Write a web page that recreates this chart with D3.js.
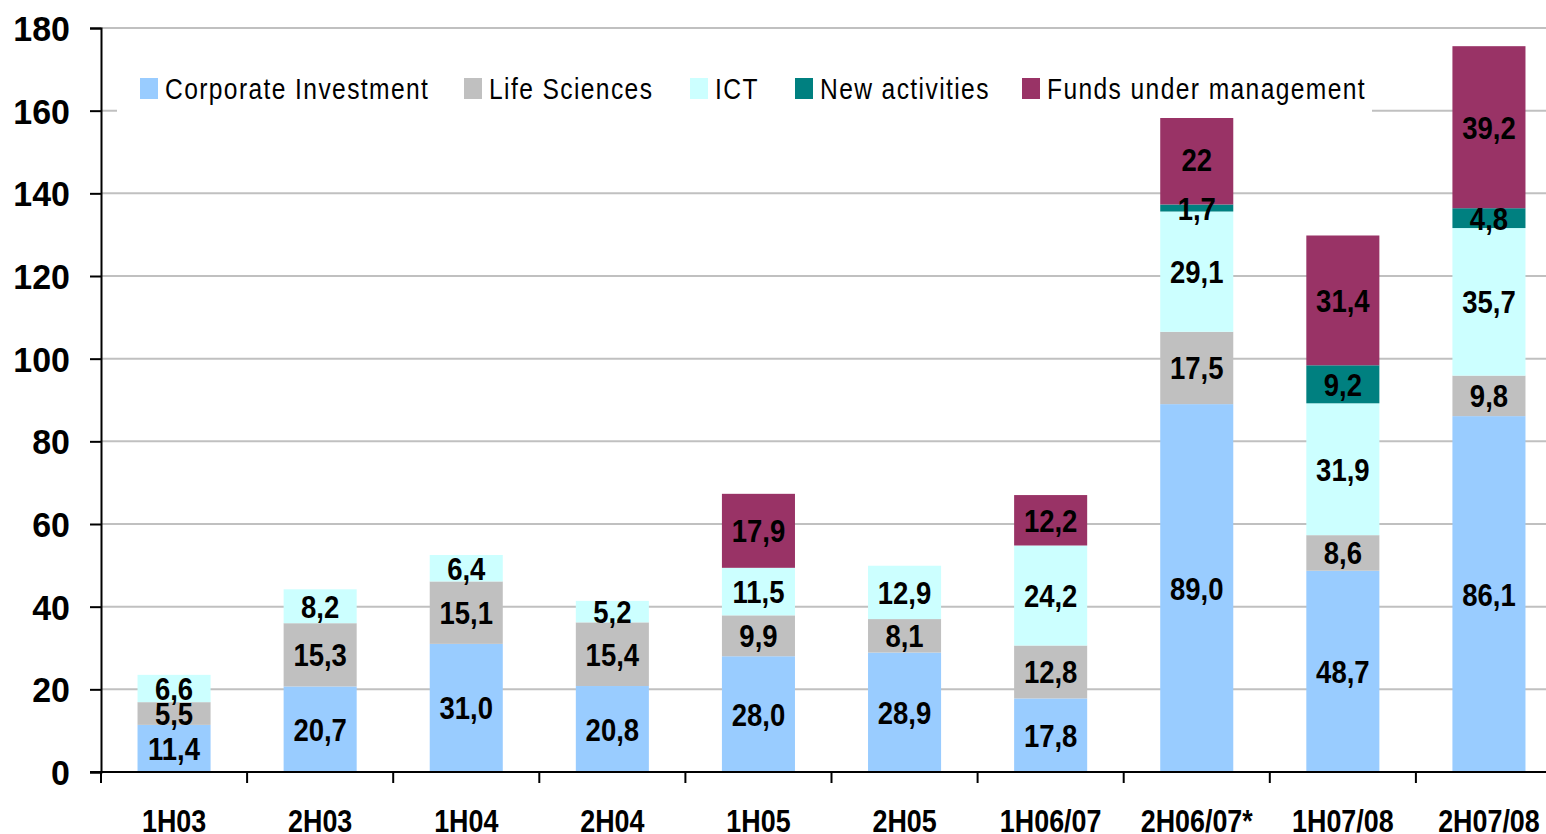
<!DOCTYPE html>
<html>
<head>
<meta charset="utf-8">
<script src="https://cdn.jsdelivr.net/npm/d3@7"></script>
<style>
  body { margin: 0; background: #fff; }
  svg { display: block; }
  text { font-family: "Liberation Sans", Arial, sans-serif; fill: #000; }
</style>
</head>
<body>
<div id="chart"></div>
<script>
// data
var periods = ["1H03", "2H03", "1H04", "2H04", "1H05", "2H05", "1H06/07", "2H06/07*", "1H07/08", "2H07/08"];
var corporate = [11.4, 20.7, 31.0, 20.8, 28.0, 28.9, 17.8, 89.0, 48.7, 86.1];
var lifeSciences = [5.5, 15.3, 15.1, 15.4, 9.9, 8.1, 12.8, 17.5, 8.6, 9.8];
var ict = [6.6, 8.2, 6.4, 5.2, 11.5, 12.9, 24.2, 29.1, 31.9, 35.7];
var newActivities = [0, 0, 0, 0, 0, 0, 0, 1.7, 9.2, 4.8];
var funds = [0, 0, 0, 0, 17.9, 0, 12.2, 22, 31.4, 39.2];
var seriesNames = ["Corporate Investment", "Life Sciences", "ICT", "New activities", "Funds under management"];
var seriesColors = ["#99CCFF", "#C0C0C0", "#CCFFFF", "#008080", "#993366"];
var yTicks = [0, 20, 40, 60, 80, 100, 120, 140, 160, 180];

var W = 1546, H = 834;
// the plot runs a little past the right edge of the picture
var m = { left: 101, right: 1562, top: 28, bottom: 772 };

var svg = d3.select("#chart").append("svg")
    .attr("width", W)
    .attr("height", H);

var x = d3.scaleBand()
    .domain(periods)
    .range([m.left, m.right])
    .paddingInner(0.5)
    .paddingOuter(0.25);

var y = d3.scaleLinear()
    .domain([0, 180])
    .range([m.bottom, m.top]);

// the original uses a narrow face, so squeeze the text sideways
function narrowText(sel, px, py, sx) {
    sel.attr("transform", function(d, i) {
        return "translate(" + px(d, i) + "," + py(d, i) + ") scale(" + sx + ",1)";
    });
}

// table for the stack
var rows = periods.map(function(p, i) {
    return {
        period: p,
        s0: corporate[i], s1: lifeSciences[i], s2: ict[i], s3: newActivities[i], s4: funds[i]
    };
});
var layers = d3.stack().keys(["s0", "s1", "s2", "s3", "s4"])(rows);

// gridlines
svg.append("g")
    .selectAll("line")
    .data(yTicks.filter(function(d) { return d > 0; }))
    .enter().append("line")
    .attr("x1", m.left).attr("x2", W)
    .attr("y1", function(d) { return y(d); })
    .attr("y2", function(d) { return y(d); })
    .attr("stroke", "#c0c0c0")
    .attr("stroke-width", 2);

// bars
var layerG = svg.append("g").selectAll("g")
    .data(layers)
    .enter().append("g")
    .attr("fill", function(d, i) { return seriesColors[i]; });

layerG.selectAll("rect")
    .data(function(d) { return d; })
    .enter().append("rect")
    .attr("x", function(d) { return x(d.data.period); })
    .attr("width", x.bandwidth())
    .attr("y", function(d) { return y(d[1]); })
    .attr("height", function(d) { return y(d[0]) - y(d[1]); });

// value labels
var fmt = d3.format(".1f");
function labelText(v, key) {
    if (key === "s4" && v === 22) return "22";
    return fmt(v).replace(".", ",");
}
layers.forEach(function(layer) {
    svg.append("g").selectAll("text")
        .data(layer.filter(function(d) { return d[1] - d[0] > 0; }))
        .enter().append("text")
        .attr("dy", "0.36em")
        .attr("text-anchor", "middle")
        .style("font-weight", "bold")
        .style("font-size", "32px")
        .text(function(d) { return labelText(d[1] - d[0], layer.key); })
        .call(narrowText,
            function(d) { return x(d.data.period) + x.bandwidth() / 2; },
            function(d) { return y((d[0] + d[1]) / 2); },
            0.86);
});

// y axis
var yAxis = d3.axisLeft(y).tickValues(yTicks).tickSize(11).tickPadding(19);
var yG = svg.append("g")
    .attr("transform", "translate(" + m.left + ",0)")
    .call(yAxis);
yG.select(".domain").attr("stroke", "#000").attr("stroke-width", 2);
yG.selectAll(".tick line").attr("stroke", "#000").attr("stroke-width", 2);
yG.selectAll(".tick text").remove();
yG.selectAll(".tick").append("text")
    .attr("dy", "0.36em")
    .attr("text-anchor", "end")
    .style("font-weight", "bold")
    .style("font-size", "35px")
    .text(function(d) { return d; })
    .call(narrowText, function() { return -31; }, function() { return 0; }, 0.97);

// x axis: ticks sit between the bars
var xAxisG = svg.append("g").attr("transform", "translate(0," + m.bottom + ")");
xAxisG.append("line")
    .attr("x1", m.left - 11).attr("x2", W)
    .attr("stroke", "#000").attr("stroke-width", 2);
var boundaries = periods.map(function(p) { return x(p) - x.step() * x.paddingInner() / 2; });
xAxisG.selectAll(".xtick")
    .data(boundaries)
    .enter().append("line")
    .attr("class", "xtick")
    .attr("x1", function(d) { return d; })
    .attr("x2", function(d) { return d; })
    .attr("y1", 0).attr("y2", 11)
    .attr("stroke", "#000").attr("stroke-width", 2);
xAxisG.selectAll(".xlab")
    .data(periods)
    .enter().append("text")
    .attr("class", "xlab")
    .attr("text-anchor", "middle")
    .style("font-weight", "bold")
    .style("font-size", "32px")
    .text(function(d) { return d; })
    .call(narrowText,
        function(d) { return x(d) + x.bandwidth() / 2; },
        function() { return 60; },
        0.84);

// legend
var legendX = [140, 464, 690, 795, 1022];
var legend = svg.append("g");
legend.append("rect")
    .attr("x", 117).attr("y", 62)
    .attr("width", 1255).attr("height", 56)
    .attr("fill", "#fff");
var items = legend.selectAll(".item")
    .data(seriesNames)
    .enter().append("g")
    .attr("class", "item")
    .attr("transform", function(d, i) { return "translate(" + legendX[i] + ",0)"; });
items.append("rect")
    .attr("x", 0).attr("y", 78)
    .attr("width", 18).attr("height", 21)
    .attr("fill", function(d, i) { return seriesColors[i]; });
items.append("text")
    .attr("dy", "0.36em")
    .style("font-size", "30px")
    .style("letter-spacing", "1.7px")
    .text(function(d) { return d; })
    .call(narrowText, function() { return 25; }, function() { return 88; }, 0.82);
</script>
</body>
</html>
